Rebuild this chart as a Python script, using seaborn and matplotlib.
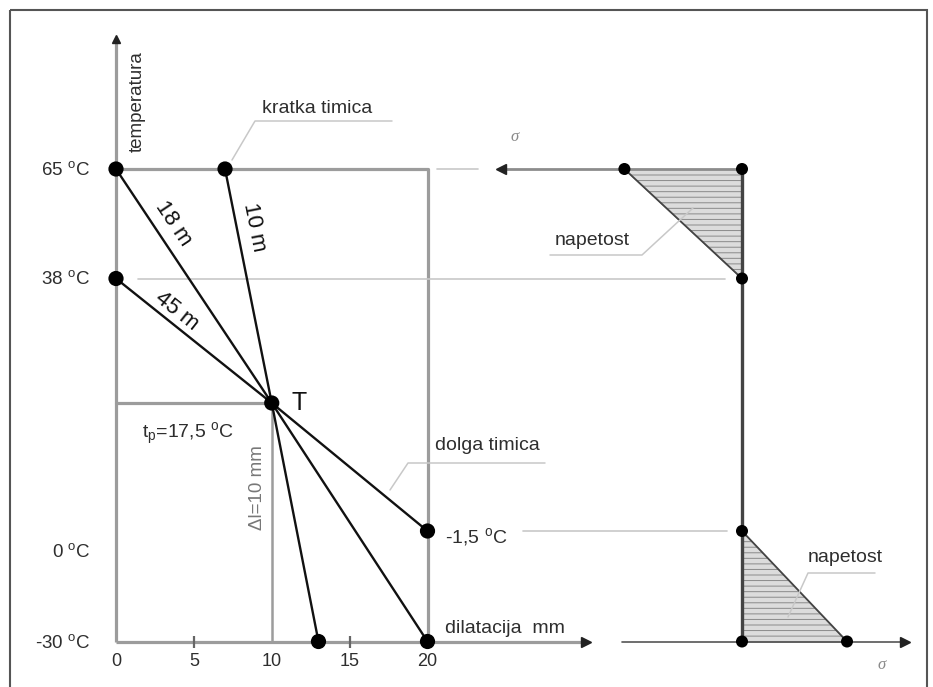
import numpy as np
import pandas as pd
import matplotlib
matplotlib.use("Agg")
import matplotlib.pyplot as plt
import seaborn as sns
from matplotlib.patches import Polygon, Rectangle

sns.set_theme(style="white")
plt.rcParams["font.family"] = ["Liberation Sans", "DejaVu Sans"]
plt.rcParams["mathtext.fontset"] = "custom"
plt.rcParams["mathtext.rm"] = "Liberation Sans"
plt.rcParams["mathtext.it"] = "Liberation Sans:italic"
plt.rcParams["mathtext.sf"] = "Liberation Sans"
plt.rcParams["hatch.linewidth"] = 0.7

# ---------------- values ----------------
temp_ticks = [65, 38, 0, -30]            # °C
dil_ticks = [0, 5, 10, 15, 20]           # mm
t_install = 17.5                         # installation temperature t_p
dl_install = 10                          # gap at installation, mm
t_max, t_min = 65, -30
dl_max = 20

rails = ["18 m", "10 m", "45 m"]
rail_dl_start = [0, 7, 0]
rail_t_start = [65, 65, 38]
rail_dl_end = [20, 13, 20]
rail_t_end = [-30, -30, -1.5]

# stress diagram (relative stress; compression to the left)
hot_t = [65, 65, 38]
hot_sigma = [-1.12, 0, 0]
cold_t = [-1.5, -30, -30]
cold_sigma = [0, 0, 1.0]

# ---------------- layout ----------------
W, H = 933, 687
GREY = "#9c9c9c"
LIGHT = "#c8c8c8"
TXT = "#2e2e2e"

# schematic (non-uniform) temperature axis
KNOT_T = np.array([-80, -30, -1.5, 17.5, 38, 65, 130])
KNOT_H = np.array([-109.5, 45.5, 156.0, 284.0, 408.5, 518.0, 782.5])


def fwd(t):
    return np.interp(np.asarray(t, dtype=float), KNOT_T, KNOT_H)


def inv(h):
    return np.interp(np.asarray(h, dtype=float), KNOT_H, KNOT_T)


T_ARROW = 97.0      # top of temperature axis
X_ARROW = 30.2      # end of dilatation axis
SIG_TOP_END = -2.3
SIG_LOW = (-1.14, 1.55)

fig = plt.figure(figsize=(W / 100, H / 100), dpi=100)
fig.patch.set_facecolor("white")

# ---- left diagram: dilatation vs temperature ----
ax = fig.add_axes([0, 0, 1, 1])
mm_px = 311.5 / 20
ax.set_xlim(-116 / mm_px, (W - 116) / mm_px)
ax.set_yscale("function", functions=(fwd, inv))
ax.set_ylim(float(inv(0)), float(inv(H)))
ax.set_axis_off()

ax.plot([0, 0], [t_min, T_ARROW], color=GREY, lw=2.3, zorder=1, solid_capstyle="butt")
ax.plot([0, X_ARROW], [t_min, t_min], color=GREY, lw=2.3, zorder=1, solid_capstyle="butt")
ax.plot([0, dl_max, dl_max], [t_max, t_max, t_min], color=GREY, lw=2.3, zorder=1)
ax.plot([0, dl_install], [t_install, t_install], color=GREY, lw=2.3, zorder=1)
ax.plot([dl_install, dl_install], [t_install, t_min], color=GREY, lw=1.8, zorder=1)
ax.plot([0], [T_ARROW], marker="^", ms=6, color="#222", zorder=3)
ax.plot([X_ARROW], [t_min], marker=">", ms=7, color="#222", zorder=3)
ax.plot([5, 15], [t_min, t_min], ls="none", marker="|", ms=9, mew=1.6, color="#666", zorder=2)

# guide lines between the two diagrams
ax.axhline(t_max, xmin=437 / W, xmax=478 / W, color=LIGHT, lw=1.2)
ax.axhline(38, xmin=138 / W, xmax=725 / W, color=LIGHT, lw=1.2)
ax.axhline(-1.5, xmin=523 / W, xmax=727 / W, color=LIGHT, lw=1.2)

rows = []
for name, d0, t0, d1, t1 in zip(rails, rail_dl_start, rail_t_start, rail_dl_end, rail_t_end):
    for d, t in [(d0, t0), (dl_install, t_install), (d1, t1)]:
        rows.append({"rail": name, "dl": d, "t": t})
lines = pd.DataFrame(rows)
sns.lineplot(data=lines, x="dl", y="t", units="rail", estimator=None, sort=False,
             color="#111111", lw=1.7, ax=ax, legend=False, zorder=3)

pts = pd.DataFrame({"dl": rail_dl_start + rail_dl_end + [dl_install],
                    "t": rail_t_start + rail_t_end + [t_install]})
sns.scatterplot(data=pts, x="dl", y="t", s=120, color="black", edgecolor="none",
                ax=ax, zorder=5, legend=False)
ax.set_axis_off()

for d in dil_ticks:
    ax.annotate(str(d), (d, t_min), xytext=(0, -24), textcoords="offset pixels",
                ha="center", va="baseline", fontsize=13, color=TXT)
for t in temp_ticks:
    dy = -36 if t == 0 else -6
    ax.annotate(f"{t} $^{{\\rm o}}$C", (0, t), xytext=(-26, dy), textcoords="offset pixels",
                ha="right", va="baseline", fontsize=13.5, color=TXT)

# ---- right diagram: stress ----
ax2 = fig.add_axes([0, 0, 1, 1])
ax2.patch.set_alpha(0)
ax2.set_xlim(-742 / 105, (W - 742) / 105)
ax2.set_yscale("function", functions=(fwd, inv))
ax2.set_ylim(float(inv(0)), float(inv(H)))
ax2.set_axis_off()

ax2.add_patch(Polygon(list(zip(hot_sigma, hot_t)), closed=True, facecolor="#dcdcdc",
                      edgecolor="#8a8a8a", hatch="---", lw=0.5, zorder=1))
ax2.add_patch(Polygon(list(zip(cold_sigma, cold_t)), closed=True, facecolor="#dcdcdc",
                      edgecolor="#8a8a8a", hatch="---", lw=0.5, zorder=1))
ax2.plot([hot_sigma[0], 0], [hot_t[0], hot_t[2]], color="#444", lw=1.3, zorder=2)
ax2.plot([0, cold_sigma[2]], [cold_t[0], cold_t[2]], color="#444", lw=1.3, zorder=2)
ax2.plot([SIG_TOP_END, 0], [t_max, t_max], color="#8c8c8c", lw=2.0, zorder=2)
ax2.plot([SIG_TOP_END], [t_max], marker="<", ms=7, color="#222", zorder=3)
ax2.plot(list(SIG_LOW), [t_min, t_min], color="#555", lw=1.2, zorder=2)
ax2.plot([SIG_LOW[1]], [t_min], marker=">", ms=7, color="#222", zorder=3)
ax2.plot([0, 0], [t_min, t_max], color="#444", lw=2.4, zorder=3)

spts = pd.DataFrame({"sigma": hot_sigma + cold_sigma, "t": hot_t + cold_t})
sns.scatterplot(data=spts, x="sigma", y="t", s=75, color="black", edgecolor="none",
                ax=ax2, zorder=5, legend=False)
ax2.set_axis_off()

# ---- annotation layer (pixel coordinates) ----
ao = fig.add_axes([0, 0, 1, 1])
ao.patch.set_alpha(0)
ao.set_xlim(0, W)
ao.set_ylim(H, 0)
ao.set_axis_off()

ao.add_patch(Rectangle((10, 10), 917, 700, fill=False, ec="#555", lw=1.5))

for xs, ys in [([232, 255, 392], [160, 121, 121]),
               ([550, 642, 693], [255, 255, 208]),
               ([390, 408, 545], [490, 463, 463]),
               ([788, 808, 875], [617, 573, 573])]:
    ao.plot(xs, ys, color=LIGHT, lw=1.1)


def seg_angle(p, q):
    (x0, y0), (x1, y1) = ax.transData.transform([p, q])
    return np.degrees(np.arctan2(y1 - y0, x1 - x0))


label_pos = [(173, 224), (254, 227), (177, 311)]
for name, d0, t0, (px, py) in zip(rails, rail_dl_start, rail_t_start, label_pos):
    ang = seg_angle((d0, t0), (dl_install, t_install))
    ao.text(px, py, name, rotation=ang, rotation_mode="anchor", ha="center", va="center",
            fontsize=16, color="#111")

ao.text(137, 102, "temperatura", rotation=90, ha="center", va="center", fontsize=13.5, color=TXT)
ao.text(262, 113, "kratka timica", ha="left", va="baseline", fontsize=14, color=TXT)
ao.text(435, 450, "dolga timica", ha="left", va="baseline", fontsize=14, color=TXT)
ao.text(445, 633, "dilatacija  mm", ha="left", va="baseline", fontsize=14, color=TXT)
ao.text(555, 245, "napetost", ha="left", va="baseline", fontsize=14, color=TXT)
ao.text(808, 562, "napetost", ha="left", va="baseline", fontsize=14, color=TXT)
ao.text(292, 410, "T", ha="left", va="baseline", fontsize=18, color="#111")
ao.text(142, 438, r"t$_{\rm p}$=17,5 $^{\rm o}$C", ha="left", va="baseline", fontsize=14, color=TXT)
ao.text(445, 542, r"-1,5 $^{\rm o}$C", ha="left", va="baseline", fontsize=14, color=TXT)
ao.text(257, 488, "Δl=10 mm", rotation=90, ha="center", va="center", fontsize=13.5, color="#777")
ao.text(515, 137, "σ", ha="center", va="center", fontsize=12, color="#8a8a8a",
        family="Liberation Serif", style="italic")
ao.text(882, 665, "σ", ha="center", va="center", fontsize=12, color="#8a8a8a",
        family="Liberation Serif", style="italic")

fig.savefig("out.png", dpi=100, facecolor="white")
